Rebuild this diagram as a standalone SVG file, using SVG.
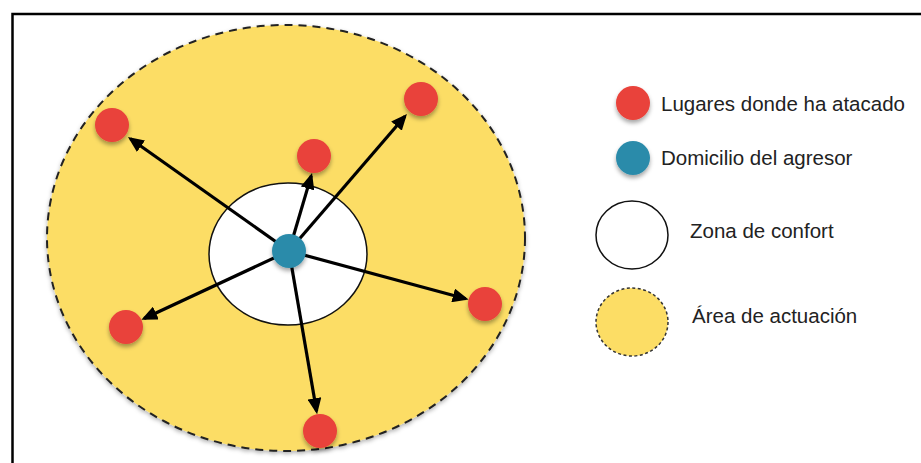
<svg xmlns="http://www.w3.org/2000/svg" width="921" height="463" viewBox="0 0 921 463">
<defs>
<filter id="sh" x="-30%" y="-30%" width="160%" height="170%">
<feDropShadow dx="0" dy="3" stdDeviation="2" flood-color="#000" flood-opacity="0.35"/>
</filter>
<filter id="sh2" x="-5%" y="-5%" width="110%" height="112%">
<feDropShadow dx="0" dy="2" stdDeviation="2" flood-color="#000" flood-opacity="0.3"/>
</filter>
<marker id="ah" markerUnits="userSpaceOnUse" markerWidth="16" markerHeight="14" refX="13" refY="7" orient="auto">
<path d="M0,0 L16,7 L0,14 z" fill="#000"/>
</marker>
</defs>
<style>
.red{fill:#E9423A;filter:url(#sh)}
.blue{fill:#2C8BAA;filter:url(#sh)}
.lbl{font-family:"Liberation Sans",Arial,sans-serif;font-size:20.5px;fill:#222}
.arr{stroke:#000;stroke-width:3.2;fill:none;marker-end:url(#ah)}
</style>
<rect width="921" height="463" fill="#fff"/>
<path d="M12.5,463 V14 H921" fill="none" stroke="#000" stroke-width="2.5"/>
<g id="area">
<ellipse cx="286" cy="238" rx="239" ry="213" fill="#FCDD65" stroke="#222" stroke-width="2" stroke-dasharray="8,6" filter="url(#sh2)"/>
</g>
<g id="confort">
<ellipse cx="288" cy="254" rx="79" ry="71" fill="#fff" stroke="#111" stroke-width="1.5"/>
</g>
<g id="connectors">
<line class="arr" x1="289" y1="251" x2="130.4" y2="138.7"/>
<line class="arr" x1="289" y1="251" x2="311.2" y2="175.9"/>
<line class="arr" x1="289" y1="251" x2="405" y2="116.3"/>
<line class="arr" x1="289" y1="251" x2="465.7" y2="298.8"/>
<line class="arr" x1="289" y1="251" x2="144.1" y2="318.5"/>
<line class="arr" x1="289" y1="251" x2="316.6" y2="411.2"/>
</g>
<g id="domicilio"><circle class="blue" cx="289" cy="251" r="17"/></g>
<g id="lugar1"><circle class="red" cx="112" cy="125" r="17"/></g>
<g id="lugar2"><circle class="red" cx="314" cy="156" r="17"/></g>
<g id="lugar3"><circle class="red" cx="421" cy="99" r="17"/></g>
<g id="lugar4"><circle class="red" cx="485" cy="304" r="17"/></g>
<g id="lugar5"><circle class="red" cx="126" cy="327" r="17"/></g>
<g id="lugar6"><circle class="red" cx="320" cy="431" r="17"/></g>
<g id="legend">
<g id="leg-lugares"><circle class="red" cx="633" cy="103" r="17"/><text class="lbl" x="661" y="111">Lugares donde ha atacado</text></g>
<g id="leg-domicilio"><circle class="blue" cx="633" cy="158" r="17"/><text class="lbl" x="661" y="165">Domicilio del agresor</text></g>
<g id="leg-confort"><ellipse cx="632" cy="235" rx="36" ry="34" fill="#fff" stroke="#111" stroke-width="1.5"/><text class="lbl" x="690" y="238">Zona de confort</text></g>
<g id="leg-area"><ellipse cx="632" cy="322" rx="36" ry="34" fill="#FCDD65" stroke="#333" stroke-width="1.5" stroke-dasharray="3,2.5"/><text class="lbl" x="692" y="323">Área de actuación</text></g>
</g>
</svg>
